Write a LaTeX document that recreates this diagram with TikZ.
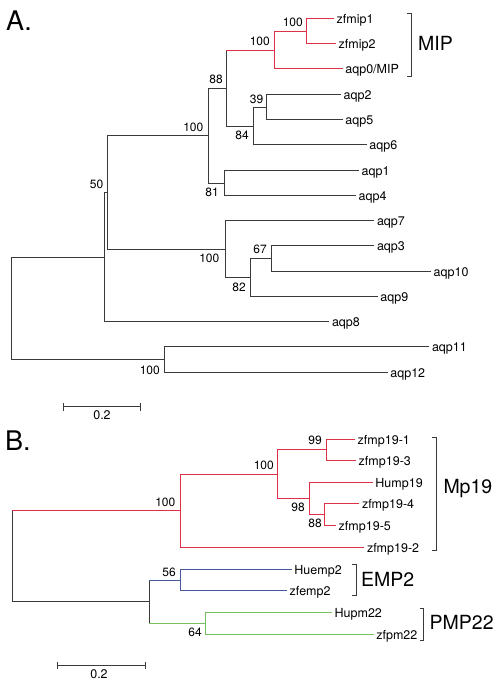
\documentclass[tikz,border=0pt]{standalone}
\usepackage{fontspec}
\setmainfont{TeX Gyre Heros}
\definecolor{gline}{RGB}{58,58,58}
\definecolor{rline}{RGB}{224,48,70}
\definecolor{bline}{RGB}{72,88,158}
\definecolor{gnline}{RGB}{118,192,96}
\newcommand\edge[4]{\draw[br,#3] (#1) -- (#1 |- #2); \draw[br,#4] (#1 |- #2) -- (#2);}
\begin{document}
\begin{tikzpicture}[x=1pt,y=-1pt,
  br/.style={line width=1.9pt,line cap=rect},
  G/.style={draw=gline}, R/.style={draw=rline}, B/.style={draw=bline}, N/.style={draw=gnline},
  leaf/.style={anchor=base west,inner sep=0pt,xshift=3.5pt,yshift=-4.5pt,font=\fontsize{12.5}{14}\selectfont},
  boot/.style={anchor=east,inner sep=0pt,font=\fontsize{12}{14}\selectfont},
  grp/.style={anchor=base west,inner sep=0pt,font=\fontsize{19.5}{22}\selectfont},
  panel/.style={anchor=base west,inner sep=0pt,font=\fontsize{27}{30}\selectfont},
  brk/.style={draw=gline,line width=1.5pt},
  sbar/.style={draw=gline,line width=1.7pt},
  scl/.style={anchor=base,inner sep=0pt,font=\fontsize{12.5}{14}\selectfont}]
\useasboundingbox (0,0) rectangle (500,683);

% ---------------- Panel A ----------------
\node[panel] (pA) at (6,30) {A.};
% leaves (branch end points)
\coordinate (zfmip1) at (333,18.5);
\coordinate (zfmip2) at (335,43.5);
\coordinate (aqp0) at (341.7,68.5);
\coordinate (aqp2) at (340,94.5);
\coordinate (aqp5) at (341.7,119.5);
\coordinate (aqp6) at (365.7,144.5);
\coordinate (aqp1) at (358,170.5);
\coordinate (aqp4) at (355,195.5);
\coordinate (aqp7) at (373.3,220.5);
\coordinate (aqp3) at (373.3,245.5);
\coordinate (aqp10) at (430,271.5);
\coordinate (aqp9) at (376.7,296.5);
\coordinate (aqp8) at (328.3,321.5);
\coordinate (aqp11) at (428.3,346.5);
\coordinate (aqp12) at (386.7,372.5);
% internal nodes
\coordinate (nZf) at (306.5,31.5);
\coordinate (nMIP) at (274.5,50.5);
\coordinate (n39) at (266.5,107.5);
\coordinate (n84) at (253.5,126.5);
\coordinate (n88) at (226.5,88.5);
\coordinate (n81) at (224.5,183.5);
\coordinate (nU) at (208.5,135.5);
\coordinate (n67) at (271.5,258.5);
\coordinate (n82) at (250.5,277.5);
\coordinate (nL) at (225.5,249.5);
\coordinate (nIn) at (107.5,192.5);
\coordinate (n50) at (104.5,257.5);
\coordinate (n1112) at (164.5,359.5);
\coordinate (rootA) at (11.5,308.5);
% branches
\edge{rootA}{n50}{G}{G}
\edge{rootA}{n1112}{G}{G}
\edge{n1112}{aqp11}{G}{G}
\edge{n1112}{aqp12}{G}{G}
\edge{n50}{nIn}{G}{G}
\edge{n50}{aqp8}{G}{G}
\edge{nIn}{nU}{G}{G}
\edge{nIn}{nL}{G}{G}
\edge{nL}{aqp7}{G}{G}
\edge{nL}{n82}{G}{G}
\edge{n82}{n67}{G}{G}
\edge{n82}{aqp9}{G}{G}
\edge{n67}{aqp3}{G}{G}
\edge{n67}{aqp10}{G}{G}
\edge{nU}{n88}{G}{G}
\edge{nU}{n81}{G}{G}
\edge{n81}{aqp1}{G}{G}
\edge{n81}{aqp4}{G}{G}
\edge{n88}{n84}{G}{G}
\edge{n84}{n39}{G}{G}
\edge{n84}{aqp6}{G}{G}
\edge{n39}{aqp2}{G}{G}
\edge{n39}{aqp5}{G}{G}
\edge{n88}{nMIP}{G}{R}
\edge{nMIP}{nZf}{R}{R}
\edge{nMIP}{aqp0}{R}{R}
\edge{nZf}{zfmip1}{R}{R}
\edge{nZf}{zfmip2}{R}{R}
% leaf labels
\node[leaf] (Lzfmip1) at (zfmip1) {zfmip1};
\node[leaf] (Lzfmip2) at (zfmip2) {zfmip2};
\node[leaf] (Laqp0) at (aqp0) {aqp0/MIP};
\node[leaf] (Laqp2) at (aqp2) {aqp2};
\node[leaf] (Laqp5) at (aqp5) {aqp5};
\node[leaf] (Laqp6) at (aqp6) {aqp6};
\node[leaf] (Laqp1) at (aqp1) {aqp1};
\node[leaf] (Laqp4) at (aqp4) {aqp4};
\node[leaf] (Laqp7) at (aqp7) {aqp7};
\node[leaf] (Laqp3) at (aqp3) {aqp3};
\node[leaf] (Laqp10) at (aqp10) {aqp10};
\node[leaf] (Laqp9) at (aqp9) {aqp9};
\node[leaf] (Laqp8) at (aqp8) {aqp8};
\node[leaf] (Laqp11) at (aqp11) {aqp11};
\node[leaf] (Laqp12) at (aqp12) {aqp12};
% bootstrap values
\node[boot] (bZf) at (303,22) {100};
\node[boot] (bMIP) at (270,41) {100};
\node[boot] (b88) at (223,79) {88};
\node[boot] (b39) at (263.5,99) {39};
\node[boot] (b84) at (249,135) {84};
\node[boot] (bU) at (203.5,127) {100};
\node[boot] (b81) at (219,192) {81};
\node[boot] (b50) at (103.5,184.5) {50};
\node[boot] (bL) at (219.5,258.5) {100};
\node[boot] (b67) at (267,249.5) {67};
\node[boot] (b82) at (246,287) {82};
\node[boot] (b1112) at (160,370) {100};
% MIP bracket
\draw[brk] (406.5,13.5) -- (411.5,13.5) -- (411.5,76.5) -- (406.5,76.5);
\node[grp] (gMIP) at (418,50.3) {MIP};
% scale bar A
\draw[sbar] (63.5,406.5) -- (140.5,406.5);
\draw[sbar] (63.5,403) -- (63.5,410.5);
\draw[sbar] (140.5,403) -- (140.5,410.5);
\node[scl] (sA) at (102,419.3) {0.2};

% ---------------- Panel B ----------------
\node[panel] (pB) at (5,450) {B.};
\coordinate (m1) at (354,439.5);
\coordinate (m3) at (355,460.5);
\coordinate (hm) at (371.7,482.5);
\coordinate (m4) at (358.3,503.5);
\coordinate (m5) at (335,525.5);
\coordinate (m2) at (363.3,547.5);
\coordinate (he) at (290.7,569.5);
\coordinate (ze) at (286,590.5);
\coordinate (hp) at (331,612.5);
\coordinate (zp) at (372.7,634.5);
\coordinate (n99) at (326.5,449.5);
\coordinate (n88b) at (324.5,514.5);
\coordinate (n98) at (309.5,498.5);
\coordinate (nI) at (277.5,474.5);
\coordinate (nMp) at (180.5,510.5);
\coordinate (n56) at (180.5,580.5);
\coordinate (n64) at (205.5,623.5);
\coordinate (nEP) at (149.5,601.5);
\coordinate (rootBa) at (12.5,556);
\coordinate (rootBb) at (12.5,557.5);
\edge{rootBa}{nMp}{G}{R}
\edge{rootBb}{nEP}{G}{G}
\edge{nMp}{nI}{R}{R}
\edge{nMp}{m2}{R}{R}
\edge{nI}{n99}{R}{R}
\edge{nI}{n98}{R}{R}
\edge{n99}{m1}{R}{R}
\edge{n99}{m3}{R}{R}
\edge{n98}{hm}{R}{R}
\edge{n98}{n88b}{R}{R}
\edge{n88b}{m4}{R}{R}
\edge{n88b}{m5}{R}{R}
\edge{nEP}{n56}{G}{B}
\edge{nEP}{n64}{G}{N}
\edge{n56}{he}{B}{B}
\edge{n56}{ze}{B}{B}
\edge{n64}{hp}{N}{N}
\edge{n64}{zp}{N}{N}
\node[leaf] (Lm1) at (m1) {zfmp19-1};
\node[leaf] (Lm3) at (m3) {zfmp19-3};
\node[leaf] (Lhm) at (hm) {Hump19};
\node[leaf] (Lm4) at (m4) {zfmp19-4};
\node[leaf] (Lm5) at (m5) {zfmp19-5};
\node[leaf] (Lm2) at (m2) {zfmp19-2};
\node[leaf] (Lhe) at (he) {Huemp2};
\node[leaf] (Lze) at (ze) {zfemp2};
\node[leaf] (Lhp) at (hp) {Hupm22};
\node[leaf] (Lzp) at (zp) {zfpm22};
\node[boot] (b99) at (322,440.5) {99};
\node[boot] (bI) at (274,465) {100};
\node[boot] (bMp) at (175.5,502.5) {100};
\node[boot] (b98) at (305,507.5) {98};
\node[boot] (b88b) at (322,523.5) {88};
\node[boot] (b56) at (176,572) {56};
\node[boot] (b64) at (202,632.5) {64};
% brackets B
\draw[brk] (431.5,437.5) -- (436.5,437.5) -- (436.5,550.5) -- (431.5,550.5);
\node[grp] (gMp) at (443.3,493.7) {Mp19};
\draw[brk] (351.5,564.5) -- (356.5,564.5) -- (356.5,595.5) -- (351.5,595.5);
\node[grp] (gEMP) at (361,586.3) {EMP2};
\draw[brk] (419.5,608.5) -- (423.5,608.5) -- (423.5,640.5) -- (419.5,640.5);
\node[grp] (gPMP) at (429.5,629) {PMP22};
% scale bar B
\draw[sbar] (57.5,665.5) -- (145.5,665.5);
\draw[sbar] (57.5,662) -- (57.5,669);
\draw[sbar] (145.5,662) -- (145.5,669);
\node[scl] (sB) at (99,678.5) {0.2};
\end{tikzpicture}
\end{document}
